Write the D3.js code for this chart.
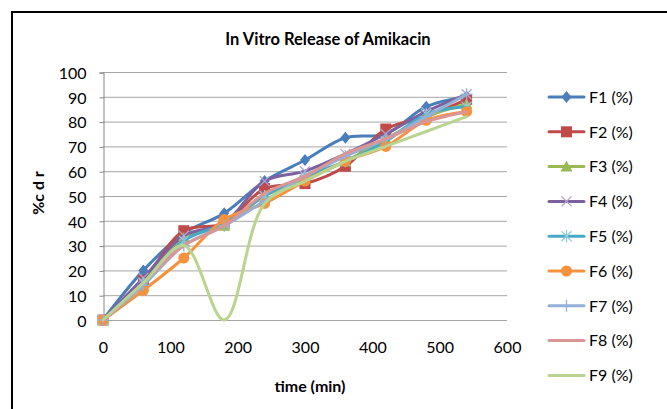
<!DOCTYPE html>
<html><head><meta charset="utf-8">
<script src="https://cdn.jsdelivr.net/npm/d3@7"></script>
<style>body{margin:0;background:#fff}svg{display:block}</style>
</head><body>
<svg id="c" width="667" height="409"></svg>
<script>
const times = [0, 60, 120, 180, 240, 300, 360, 420, 480, 540];
const seriesNames = ["F1 (%)", "F2 (%)", "F3 (%)", "F4 (%)", "F5 (%)", "F6 (%)", "F7 (%)", "F8 (%)", "F9 (%)"];
const F1 = [0, 20, 35, 43, 56, 64.5, 73.5, 75, 86, 90];
const F2 = [0, 16, 36, 39, 53, 55, 62, 77, 82, 89];
const F3 = [0, 15, 33, 38, 50, 57, 64, 73, 82, 87];
const F4 = [0, 17, 34, 39, 56, 60, 67, 75, 84, 91];
const F5 = [0, 15, 32, 39, 50, 58, 64, 72, 83, 86];
const F6 = [0, 12, 25, 40.5, 47, 56, 64, 70, 80.5, 84];
const F7 = [0, 14, 30, 38, 48, 58, 66, 73, 82, 91];
const F8 = [0, 15, 30, 38, 51, 58, 67, 73, 80, 84];
const F9 = [0, 15, 30, 0, 47, 56, 64, 70, 76, 82];
const yTicks = [0, 10, 20, 30, 40, 50, 60, 70, 80, 90, 100];
const xTicks = [0, 100, 200, 300, 400, 500, 600];
const colors = ["#4A7EBB", "#BE4B48", "#98B954", "#7D60A0", "#46AAC5", "#F6923D", "#92B0D8", "#D99694", "#B9D48E"];
const markers = ["diamond", "square", "triangle", "x", "asterisk", "circle", "plus", "none", "none"];

const allSeries = [F1, F2, F3, F4, F5, F6, F7, F8, F9];
const svg = d3.select("#c");
const font = "Lato, 'Open Sans', sans-serif";

// frame
svg.append("path").attr("d", "M12,409 L12,12 L667,12").attr("fill", "none").attr("stroke", "#000").attr("stroke-width", 2);

const x = d3.scaleLinear().domain([0, 600]).range([103, 507]);
const y = d3.scaleLinear().domain([0, 100]).range([320, 72]);

// gridlines
svg.append("g").selectAll("line").data(yTicks).join("line")
  .attr("x1", 103).attr("x2", 507).attr("y1", d => y(d) + 0.5).attr("y2", d => y(d) + 0.5)
  .attr("stroke", "#a6a6a6").attr("stroke-width", 1);

// y axis
const ya = svg.append("g").attr("transform", "translate(103.5,0.5)")
  .call(d3.axisLeft(y).tickValues(yTicks).tickSize(4).tickPadding(13));
ya.select(".domain").attr("stroke", "#868686");
ya.selectAll(".tick line").attr("stroke", "#868686");
ya.selectAll("text").attr("font-family", font).attr("font-size", 16).attr("fill", "#000").attr("dy", "0.36em");

// x axis
const xa = svg.append("g").attr("transform", "translate(0,320.5)")
  .call(d3.axisBottom(x).tickValues(xTicks).tickSize(0).tickPadding(21));
xa.select(".domain").remove();
xa.selectAll("text").attr("font-family", font).attr("font-size", 16).attr("fill", "#000");

// title & labels
svg.append("text").attr("x", 328).attr("y", 45).attr("text-anchor", "middle")
  .attr("font-family", font).attr("font-weight", "bold").attr("font-size", 16.5).text("In Vitro Release of Amikacin");
svg.append("text").attr("x", 310).attr("y", 392).attr("text-anchor", "middle")
  .attr("font-family", font).attr("font-weight", "bold").attr("font-size", 16).text("time (min)");
svg.append("text").attr("transform", "translate(44,193) rotate(-90)").attr("text-anchor", "middle")
  .attr("font-family", font).attr("font-weight", "bold").attr("font-size", 16).text("%c d r");

const line = d3.line().x((d, i) => x(times[i])).y(d => y(d)).curve(d3.curveCatmullRom.alpha(0.5));

function drawMarker(g, type, color, cx, cy) {
  const s = 5;
  if (type === "diamond") g.append("path").attr("d", `M${cx},${cy - 6}L${cx + 5},${cy}L${cx},${cy + 6}L${cx - 5},${cy}Z`).attr("fill", color);
  else if (type === "square") g.append("rect").attr("x", cx - 5.5).attr("y", cy - 5.5).attr("width", 11).attr("height", 11).attr("fill", color);
  else if (type === "triangle") g.append("path").attr("d", `M${cx},${cy - 6}L${cx + 6},${cy + 5}L${cx - 6},${cy + 5}Z`).attr("fill", color);
  else if (type === "circle") g.append("circle").attr("cx", cx).attr("cy", cy).attr("r", 5.5).attr("fill", color);
  else if (type === "x") g.append("path").attr("d", `M${cx - s},${cy - s}L${cx + s},${cy + s}M${cx - s},${cy + s}L${cx + s},${cy - s}`).attr("stroke", color).attr("stroke-width", 1.3);
  else if (type === "asterisk") g.append("path").attr("d", `M${cx - s},${cy - s}L${cx + s},${cy + s}M${cx - s},${cy + s}L${cx + s},${cy - s}M${cx},${cy - s - 1}L${cx},${cy + s + 1}`).attr("stroke", color).attr("stroke-width", 1.3);
  else if (type === "plus") g.append("path").attr("d", `M${cx},${cy - 6}L${cx},${cy + 6}M${cx - 6},${cy}L${cx + 6},${cy}`).attr("stroke", color).attr("stroke-width", 1.3);
}

const markerStroke = ["#4A7EBB", "#BE4B48", "#98B954", "#B3A2C7", "#93CDDD", "#F6923D", "#7F9FCB", "#D99694", "#B9D48E"];

allSeries.forEach((vals, k) => {
  const g = svg.append("g");
  g.append("path").datum(vals).attr("d", line).attr("fill", "none")
    .attr("stroke", colors[k]).attr("stroke-width", 3).attr("stroke-linejoin", "round").attr("stroke-linecap", "round");
  vals.forEach((v, i) => drawMarker(g, markers[k], k === 3 || k === 4 ? markerStroke[k] : colors[k], x(times[i]), y(v)));
});

// legend
const lg = svg.append("g");
seriesNames.forEach((name, k) => {
  const ly = 97 + k * 34.8;
  const g = lg.append("g");
  g.append("line").attr("x1", 549).attr("x2", 584).attr("y1", ly).attr("y2", ly)
    .attr("stroke", colors[k]).attr("stroke-width", 3).attr("stroke-linecap", "round");
  drawMarker(g, markers[k], k === 3 || k === 4 ? markerStroke[k] : colors[k], 566.5, ly);
  g.append("text").attr("x", 589).attr("y", ly).attr("dy", "0.36em")
    .attr("font-family", font).attr("font-size", 16).text(name);
});
</script>
</body></html>
